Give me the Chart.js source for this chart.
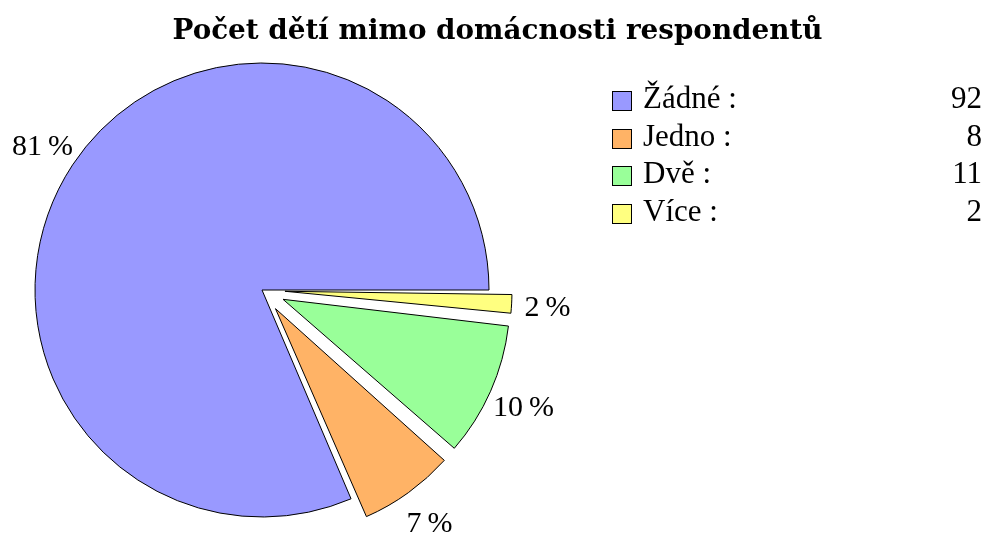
<!DOCTYPE html>
<html>
<head>
<meta charset="utf-8">
<script src="https://cdn.jsdelivr.net/npm/chart.js@4"></script>
<style>
  html, body { margin: 0; padding: 0; background: #fff; }
  #wrap { position: relative; width: 985px; height: 536px; overflow: hidden; }
  #chart { position: absolute; left: 0; top: 0; }
  #title {
    position: absolute; left: 10px; width: 975px; top: 13px;
    text-align: center; font: bold 27.8px "DejaVu Serif", serif; color: #000;
  }
  #legend { position: absolute; left: 612px; top: 0; width: 370px; font: 31px "Liberation Serif", serif; }
  .row { position: absolute; left: 0; width: 370px; height: 30px; }
  .box { position: absolute; left: 0; width: 18px; height: 18px; border: 1px solid #000; }
  .lab { position: absolute; left: 31px; bottom: 0; line-height: 1; }
  .val { position: absolute; right: 0; bottom: 0; line-height: 1; }
</style>
</head>
<body>
<div id="wrap">
  <canvas id="chart" width="985" height="536"></canvas>
  <div id="title">Počet dětí mimo domácnosti respondentů</div>
  <div id="legend"></div>
</div>
<script>
// === Data (legend order)
const categories = ["Žádné", "Jedno", "Dvě", "Více"];
const counts = [92, 8, 11, 2];
const colors = ["#9999ff", "#ffb366", "#99ff99", "#ffff80"];
const explode = [0, 23, 23, 23]; // px the slice is pulled out

const total = counts.reduce((a, b) => a + b, 0);

// === HTML legend with counts
const legend = document.getElementById("legend");
categories.forEach((c, i) => {
  const row = document.createElement("div");
  row.className = "row";
  row.style.top = (83 + i * 37.5) + "px";
  row.innerHTML = `<div class="box" style="top:8px;background:${colors[i]}"></div>` +
    `<span class="lab">${c} :</span><span class="val">${counts[i]}</span>`;
  legend.appendChild(row);
});

// pie goes clockwise from 3 o'clock, reference goes counter-clockwise -> reverse
const rev = a => a.slice().reverse();

// Chart.js translates an arc by offset/4 and also grows its radius by
// offset/4 * (1 - sin(circumference)); keep every slice at the same radius
const growth = explode.map((d, i) => {
  const c = Math.min(Math.PI, counts[i] / total * 2 * Math.PI);
  return d * (1 - Math.sin(c));
});
const keepRadius = {
  id: "keepRadius",
  afterDatasetUpdate(chart, args) {
    const g = rev(growth);
    args.meta.data.forEach((arc, i) => { arc.outerRadius -= g[i]; });
  }
};

// === percentage labels outside each slice
const pctLabels = {
  id: "pctLabels",
  afterDatasetsDraw(chart) {
    const ctx = chart.ctx;
    const meta = chart.getDatasetMeta(0);
    const data = chart.data.datasets[0].data;
    const R = meta.controller.outerRadius;
    const shift = rev(explode);
    ctx.save();
    ctx.font = '30px "Liberation Serif", serif';
    ctx.fillStyle = "#000";
    ctx.textAlign = "center";
    ctx.textBaseline = "alphabetic";
    meta.data.forEach((arc, i) => {
      const p = arc.getProps(["x", "y", "startAngle", "endAngle"], true);
      const mid = (p.startAngle + p.endAngle) / 2;
      const r = R + shift[i] + 36;
      const txt = Math.round(data[i] / total * 100) + "\u2009%";
      // +10: half the digit height so the figures sit centred on the point
      ctx.fillText(txt, p.x + Math.cos(mid) * r, p.y + Math.sin(mid) * r + 10);
    });
    ctx.restore();
  }
};

new Chart(document.getElementById("chart"), {
  type: "pie",
  data: {
    labels: rev(categories),
    datasets: [{
      data: rev(counts),
      backgroundColor: rev(colors),
      borderColor: "#000",
      borderWidth: 1,
      borderJoinStyle: "miter",
      offset: rev(explode).map(d => d * 4),
      radius: 227
    }]
  },
  options: {
    responsive: false,
    animation: false,
    rotation: 90,
    layout: { padding: { left: 0, right: 461, top: 44, bottom: 0 } },
    plugins: {
      legend: { display: false },
      title: { display: false },
      tooltip: { enabled: false }
    }
  },
  plugins: [keepRadius, pctLabels]
});
</script>
</body>
</html>
